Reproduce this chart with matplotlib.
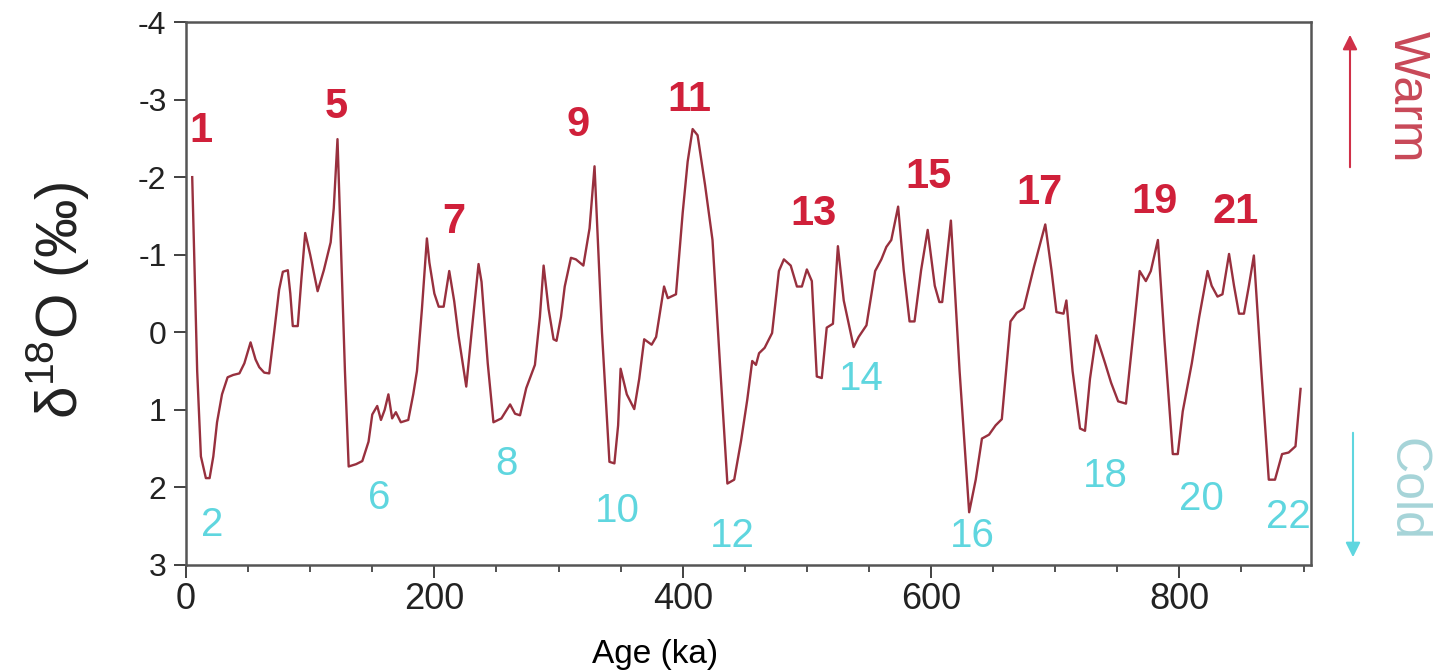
import matplotlib
matplotlib.use('Agg')
import matplotlib.pyplot as plt
from matplotlib.ticker import MultipleLocator

plt.rcParams['font.family'] = ['Liberation Sans', 'DejaVu Sans']
plt.rcParams['mathtext.fontset'] = 'custom'
plt.rcParams['mathtext.rm'] = 'Liberation Sans'
plt.rcParams['axes.unicode_minus'] = False

# benthic d18O stack (age in ka, d18O in per mil)
age = [5, 9, 12, 16, 19, 22, 25, 29, 33.5, 38, 43, 47, 52, 56, 59, 63, 67, 71, 75,
       78, 82, 84, 86, 90, 93, 96, 100, 106, 111, 116.5, 119, 122, 124, 128, 131,
       137, 142, 147, 150, 154, 157, 160, 163, 166, 169, 173, 179, 183, 186, 190,
       194, 196, 200, 203.5, 207.5, 212, 216, 219.5, 225.7, 230, 235.6, 238, 243,
       247.6, 254, 261, 265, 269, 274, 281, 285, 288, 292, 296, 298.4, 302, 305,
       310, 314, 320, 325, 329, 335, 341, 345, 348, 350, 355, 361, 365, 369, 375,
       378.6, 385, 388, 394.6, 400, 404, 408, 412, 418, 424, 430, 436, 441.5, 447,
       452, 456, 459, 461.5, 466, 472, 477.5, 481.5, 487, 492, 496, 500, 504, 508,
       512, 516, 521, 525, 529.7, 537.7, 541.7, 548, 555, 560, 564, 568, 573.5,
       578, 582.7, 586.7, 592, 597.3, 603, 606.7, 609, 616, 623, 630.7, 636, 641,
       646.7, 652, 657, 664, 669, 674.7, 683, 692, 697, 701, 706.7, 709, 714, 720,
       724, 728, 733, 740, 745, 750.7, 757, 763, 768, 773, 777, 782.7, 788, 794.7,
       798.7, 802.7, 810, 816, 822.7, 826, 830.7, 834.7, 840, 844, 848, 852, 856,
       860, 866, 872, 877, 882.7, 888, 893.5, 897.6]
d18o = [-2.0, 0.5, 1.6, 1.88, 1.88, 1.6, 1.16, 0.8, 0.58, 0.55, 0.53, 0.4, 0.13,
        0.35, 0.45, 0.52, 0.53, 0.0, -0.55, -0.78, -0.8, -0.5, -0.08, -0.08, -0.7,
        -1.28, -1.0, -0.53, -0.8, -1.16, -1.6, -2.49, -1.5, 0.5, 1.73, 1.7, 1.66,
        1.41, 1.06, 0.95, 1.13, 1.0, 0.8, 1.11, 1.03, 1.16, 1.13, 0.8, 0.5, -0.3,
        -1.21, -0.9, -0.5, -0.33, -0.33, -0.79, -0.4, 0.05, 0.7, 0.0, -0.88, -0.65,
        0.4, 1.16, 1.11, 0.93, 1.05, 1.07, 0.72, 0.42, -0.2, -0.86, -0.3, 0.09, 0.11,
        -0.2, -0.59, -0.96, -0.94, -0.86, -1.34, -2.14, 0.0, 1.67, 1.69, 1.2, 0.47,
        0.8, 0.99, 0.6, 0.09, 0.16, 0.06, -0.59, -0.44, -0.49, -1.54, -2.2, -2.62,
        -2.54, -1.9, -1.19, 0.4, 1.95, 1.9, 1.4, 0.87, 0.37, 0.42, 0.27, 0.2, 0.01,
        -0.79, -0.94, -0.86, -0.59, -0.59, -0.81, -0.66, 0.57, 0.59, -0.06, -0.11,
        -1.11, -0.41, 0.19, 0.06, -0.09, -0.79, -0.94, -1.1, -1.19, -1.62, -0.8,
        -0.14, -0.14, -0.8, -1.32, -0.6, -0.39, -0.39, -1.44, 0.5, 2.32, 1.9, 1.37,
        1.32, 1.2, 1.12, -0.14, -0.25, -0.31, -0.85, -1.39, -0.8, -0.26, -0.24,
        -0.41, 0.5, 1.24, 1.27, 0.6, 0.04, 0.39, 0.65, 0.89, 0.92, 0.0, -0.79,
        -0.66, -0.79, -1.19, 0.1, 1.57, 1.57, 1.02, 0.4, -0.2, -0.79, -0.6, -0.46,
        -0.49, -1.01, -0.6, -0.24, -0.24, -0.6, -0.99, 0.5, 1.9, 1.9, 1.57, 1.55,
        1.47, 0.73]

# marine isotope stages: warm (odd) and cold (even)
warm_mis = ['1', '5', '7', '9', '11', '13', '15', '17', '19', '21']
warm_x = [12, 121, 216, 316, 405, 505, 598, 687, 780, 845]
warm_y = [-2.6, -2.9, -1.42, -2.67, -3.0, -1.53, -2.0, -1.8, -1.68, -1.55]
cold_mis = ['2', '6', '8', '10', '12', '14', '16', '18', '20', '22']
cold_x = [21, 155.6, 258, 347, 440, 544, 633, 740, 818, 888]
cold_y = [2.48, 2.14, 1.7, 2.3, 2.62, 0.6, 2.62, 1.85, 2.15, 2.38]

W, H = 1436, 671
fig = plt.figure(figsize=(W / 100, H / 100), dpi=100)
ax = fig.add_axes([186 / W, 1 - 565 / H, (1311 - 186) / W, (565 - 22) / H])

ax.plot(age, d18o, color='#98303e', lw=1.7)

for lab, x, y in zip(warm_mis, warm_x, warm_y):
    ax.text(x, y, lab, color='#d0203a', fontsize=30, fontweight='bold',
            ha='center', va='center')
for lab, x, y in zip(cold_mis, cold_x, cold_y):
    ax.text(x, y, lab, color='#5fd6df', fontsize=29,
            ha='center', va='center', clip_on=False, zorder=5)

ax.set_xlim(0, 906)
ax.set_ylim(3, -4)
ax.xaxis.set_major_locator(MultipleLocator(200))
ax.xaxis.set_minor_locator(MultipleLocator(50))
ax.yaxis.set_major_locator(MultipleLocator(1))
ax.tick_params(axis='x', which='major', direction='out', length=9, width=1.3,
               labelsize=26, pad=3, color='#333333', labelcolor='#222222')
ax.tick_params(axis='x', which='minor', direction='out', length=5, width=1.2,
               color='#333333')
ax.tick_params(axis='y', which='major', direction='out', length=9, width=1.3,
               labelsize=23, pad=5, color='#333333', labelcolor='#222222')
for s in ax.spines.values():
    s.set_color('#555555')
    s.set_linewidth(1.8)

fig.text(655 / W, 1 - 655 / H, 'Age (ka)', fontsize=24, ha='center', va='center')
fig.text(58 / W, 1 - 300 / H, 'δ$^{18}$O (‰)', fontsize=42, rotation=90,
         ha='center', va='center', color='#222222')

# warm / cold arrows on the right
fig.text(1407 / W, 1 - 97 / H, 'Warm', fontsize=36, rotation=-90,
         color='#c84858', ha='center', va='center')
fig.text(1407 / W, 1 - 490 / H, 'Cold', fontsize=36, rotation=-90,
         color='#a6d4d8', ha='center', va='center')
ax.annotate('', xy=(1350 / W, 1 - 32 / H), xytext=(1350 / W, 1 - 170 / H),
            xycoords='figure fraction', textcoords='figure fraction',
            arrowprops=dict(arrowstyle='-|>', color='#d03048', lw=1.5,
                            mutation_scale=22))
ax.annotate('', xy=(1353 / W, 1 - 560 / H), xytext=(1353 / W, 1 - 430 / H),
            xycoords='figure fraction', textcoords='figure fraction',
            arrowprops=dict(arrowstyle='-|>', color='#5fd6df', lw=1.5,
                            mutation_scale=22))

fig.savefig('out.png', dpi=100)
